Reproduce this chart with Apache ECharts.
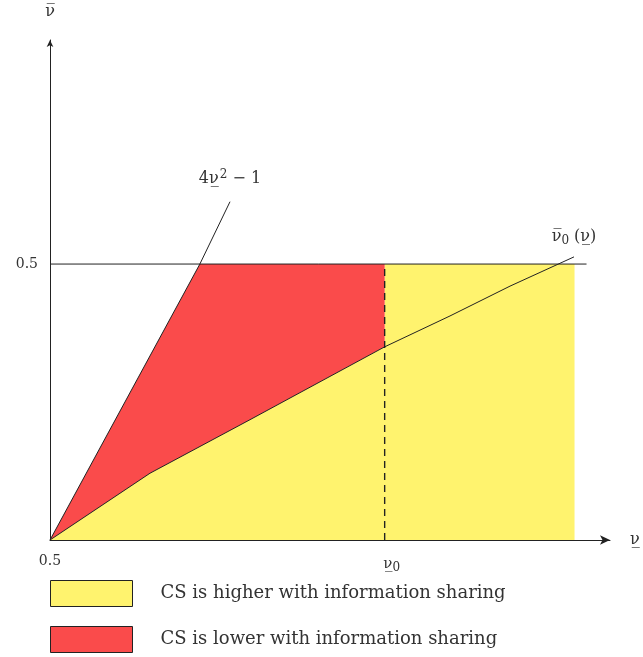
<!DOCTYPE html>
<html>
<head>
<meta charset="utf-8">
<script src="https://cdn.jsdelivr.net/npm/echarts@6/dist/echarts.min.js"></script>
<style>
  html, body { margin: 0; padding: 0; background: #fff; }
  #chart { width: 643px; height: 657px; }
</style>
</head>
<body>
<div id="chart"></div>
<script>
// Threshold curve 4ν² − 1 (x = ν, y = ν̄)
const lowerCurve = [[0.5, 0], [0.5562, 0.25], [0.6124, 0.5], [0.635, 0.613]];
// Threshold curve ν̄0(ν)
const upperCurve = [[0.5, 0], [0.575, 0.121], [0.65, 0.218], [0.751, 0.35], [0.80, 0.406], [0.845, 0.46], [0.893, 0.513]];
// Key values on the axes
const nuZero = 0.751;
const capY = 0.5;
const regionRight = 0.8934;
const capLineEnd = 0.9024;
const xTickValues = [0.5, nuZero];
const yTickValues = [0.5];
const legendNames = ['CS is higher with information sharing', 'CS is lower with information sharing'];

const YELLOW = '#FFF36E';
const RED = '#FA4B4B';
const INK = '#222';
const FONT = 'DejaVu Serif';

// Region where CS is higher: below ν̄0(ν) up to ν0, then the whole strip up to 0.5
const yellowPoly = upperCurve.filter(p => p[0] <= nuZero)
  .concat([[nuZero, capY], [regionRight, capY], [regionRight, 0]]);
// Region where CS is lower: between 4ν² − 1 and ν̄0(ν), left of ν0, below 0.5
const redPoly = lowerCurve.filter(p => p[1] <= capY)
  .concat([[nuZero, capY]])
  .concat(upperCurve.filter(p => p[0] <= nuZero).reverse());

function polygonSeries(name, pts, color) {
  return {
    name: name,
    type: 'custom',
    data: [0],
    z: 1,
    itemStyle: { color: color, borderColor: INK, borderWidth: 1 },
    renderItem: function (params, api) {
      return {
        type: 'polygon',
        shape: { points: pts.map(p => api.coord(p)) },
        style: { fill: color, stroke: null }
      };
    },
    silent: true
  };
}

const labelRich = {
  n: { fontFamily: FONT, fontSize: 16, color: '#333' },
  s: { fontFamily: FONT, fontSize: 12, color: '#333', padding: [8, 0, 0, 0] },
  p: { fontFamily: FONT, fontSize: 12, color: '#333', padding: [0, 0, 9, 1] }
};

function curveSeries(name, pts, labelText, dist) {
  return {
    type: 'line', name: name, z: 4, silent: true,
    symbol: 'circle', symbolSize: 0.01, showSymbol: true,
    itemStyle: { color: INK },
    lineStyle: { color: INK, width: 1 },
    data: pts.map((p, i) => i === pts.length - 1
      ? { value: p, label: { show: true, position: 'top', distance: dist, formatter: labelText, fontFamily: FONT, fontSize: 16, color: '#333', rich: labelRich } }
      : p)
  };
}

const chart = echarts.init(document.getElementById('chart'), null, { renderer: 'canvas' });
chart.setOption({
  animation: false,
  backgroundColor: '#fff',
  textStyle: { fontFamily: FONT },
  grid: { left: 50, top: 40, width: 560, height: 500 },
  xAxis: {
    type: 'value', min: 0.5, max: 0.92,
    name: 'ν̲', nameLocation: 'end', nameGap: 20,
    nameTextStyle: { fontFamily: FONT, fontSize: 16, color: '#333', verticalAlign: 'middle', padding: [0, 0, 4, 0] },
    axisLine: { show: true, onZero: false, symbol: ['none', 'arrow'], symbolSize: [7, 10], lineStyle: { color: INK, width: 1 } },
    axisTick: { show: false },
    splitLine: { show: false },
    axisLabel: {
      customValues: xTickValues,
      margin: 14, fontFamily: FONT, fontSize: 14, color: '#333',
      formatter: v => (Math.abs(v - nuZero) < 1e-6 ? '{g|}{n|ν̲}{s|0}' : '0.5'),
      rich: {
        g: { width: 14 },
        n: { fontFamily: FONT, fontSize: 15, color: '#333' },
        s: { fontFamily: FONT, fontSize: 12, color: '#333', padding: [8, 0, 0, 0] }
      }
    }
  },
  yAxis: {
    type: 'value', min: 0, max: 0.906,
    name: 'ν̅', nameLocation: 'end', nameGap: 20,
    nameTextStyle: { fontFamily: FONT, fontSize: 16, color: '#333', align: 'center' },
    axisLine: { show: true, onZero: false, symbol: ['none', 'arrow'], symbolSize: [5, 7], lineStyle: { color: INK, width: 1 } },
    axisTick: { show: false },
    splitLine: { show: false },
    axisLabel: {
      customValues: yTickValues,
      margin: 12, fontFamily: FONT, fontSize: 14, color: '#333',
      formatter: () => '0.5'
    }
  },
  legend: {
    orient: 'vertical', left: 50, top: 580, itemGap: 19, padding: 0,
    itemWidth: 82, itemHeight: 26,
    textStyle: { fontFamily: FONT, fontSize: 18, color: '#333', padding: [4, 0, 0, 23] },
    data: [
      { name: legendNames[0], icon: 'rect', itemStyle: { color: YELLOW, borderColor: INK, borderWidth: 1 } },
      { name: legendNames[1], icon: 'rect', itemStyle: { color: RED, borderColor: INK, borderWidth: 1 } }
    ],
    selectedMode: false
  },
  series: [
    polygonSeries(legendNames[0], yellowPoly, YELLOW),
    polygonSeries(legendNames[1], redPoly, RED),
    {
      type: 'line', name: 'cap', z: 3, symbol: 'none', silent: true,
      lineStyle: { color: INK, width: 1 },
      data: [[0.5, capY], [capLineEnd, capY]]
    },
    {
      type: 'line', name: 'nu0', z: 3, symbol: 'none', silent: true,
      lineStyle: { color: INK, width: 1.4, type: [7, 5] },
      data: [[nuZero, 0], [nuZero, capY]]
    },
    curveSeries('lower', lowerCurve, '{n|4ν̲}{p|2}{n| − 1}', 12),
    curveSeries('upper', upperCurve, '{n|ν̅}{s|0}{n| (ν̲)}', 10)
  ]
});
</script>
</body>
</html>
